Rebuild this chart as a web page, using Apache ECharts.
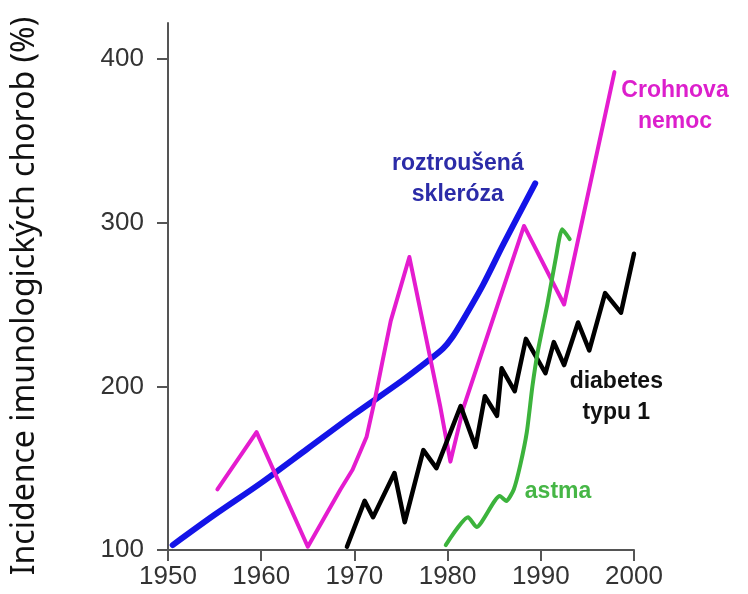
<!DOCTYPE html>
<html><head><meta charset="utf-8">
<script src="https://cdn.jsdelivr.net/npm/echarts@6/dist/echarts.min.js"></script>
<style>html,body{margin:0;padding:0;background:#fff}#c{width:748px;height:594px}</style>
</head><body><div id="c"></div>
<script>
// ---- data ----
const xTicks = [1950, 1960, 1970, 1980, 1990, 2000];
const yTicks = [100, 200, 300, 400];

const msYears  = [1950.5, 1955, 1960, 1965, 1970, 1975, 1978, 1979.5, 1980.5, 1981.7, 1983.8, 1986, 1989.4];
const msValues = [103, 121.5, 141, 162, 183, 203, 216, 223, 230, 241, 262, 287, 324];

const crohnYears  = [1955.3, 1959.5, 1965, 1967, 1968.5, 1969.8, 1971.3, 1972.2, 1973.0, 1973.9, 1975.9, 1979.2, 1980.3, 1981.7, 1988.2, 1992.5, 1997.9];
const crohnValues = [137, 172, 102, 122, 137, 149, 169, 192, 215, 240, 279, 188, 154, 187, 298, 250, 392];

const diabYears  = [1969.2, 1971.1, 1972.0, 1974.3, 1975.4, 1977.4, 1978.8, 1981.4, 1983.0, 1984.0, 1985.3, 1985.8, 1987.2, 1988.4, 1990.5, 1991.4, 1992.5, 1994.0, 1995.2, 1996.9, 1998.6, 2000];
const diabValues = [102, 130, 120, 147, 117, 161, 150, 188, 163, 194, 182, 211, 197, 229, 208, 227, 213, 239, 222, 257, 245, 281];

const astmaYears  = [1979.8, 1982.2, 1983.1, 1985.6, 1986.3, 1987.1, 1987.8, 1988.5, 1989.1, 1989.7, 1990.7, 1991.6, 1992.3, 1993.1];
const astmaValues = [103, 120, 114, 133, 130, 137, 152, 172, 200, 222, 250, 278, 296, 290];

const seriesNames = ['roztroušená\nskleróza', 'Crohnova\nnemoc', 'diabetes\ntypu 1', 'astma'];
const yTitle = 'Incidence imunologických chorob (%)';

// label anchors in data coordinates (year, value)
const labelAnchors = [[1981.1, 326.6], [2004.4, 371.2], [1998.1, 193.5], [1991.85, 135.4]];
const lineColors = ['#1414e8', '#e41ccf', '#000000', '#3cb33c'];
const textColors = ['#2b2ba8', '#dc1fcc', '#111111', '#46b646'];
const lineWidths = [6, 4, 4.5, 4];

function pairs(xs, ys) { return xs.map((x, i) => [x, ys[i]]); }

const chart = echarts.init(document.getElementById('c'), null, { renderer: 'canvas' });
const axisColor = '#555';
const labelFont = 'Liberation Sans, Arial, sans-serif';
const option = {
  animation: false,
  backgroundColor: '#fff',
  grid: { left: 168, right: 114, top: 23, bottom: 44, containLabel: false },
  xAxis: {
    type: 'value', min: 1950, max: 2000, interval: 10,
    axisLine: { show: true, lineStyle: { color: axisColor, width: 2 } },
    axisTick: { show: true, length: 11, lineStyle: { color: axisColor, width: 2 } },
    axisLabel: { color: '#333', fontFamily: labelFont, fontSize: 26, margin: 14,
      formatter: v => String(v) },
    splitLine: { show: false }
  },
  yAxis: {
    type: 'value', min: 100, max: 422,
    axisLine: { show: true, lineStyle: { color: axisColor, width: 2 } },
    axisTick: { show: true, length: 11, customValues: yTicks, lineStyle: { color: axisColor, width: 2 } },
    axisLabel: { color: '#333', fontFamily: labelFont, fontSize: 26, margin: 24,
      customValues: yTicks },
    splitLine: { show: false }
  },
  series: [
    { type: 'line', data: pairs(msYears, msValues), smooth: 0.3 },
    { type: 'line', data: pairs(crohnYears, crohnValues), smooth: false },
    { type: 'line', data: pairs(diabYears, diabValues), smooth: false },
    { type: 'line', data: pairs(astmaYears, astmaValues), smooth: 0.2 }
  ].map((s, i) => Object.assign(s, {
    name: seriesNames[i], symbol: 'none', showSymbol: false, clip: false,
    lineStyle: { color: lineColors[i], width: lineWidths[i], cap: 'round', join: 'round' },
    itemStyle: { color: lineColors[i] }
  }))
};
chart.setOption(option);

const graphics = labelAnchors.map((a, i) => {
  const p = chart.convertToPixel({ gridIndex: 0 }, a);
  return {
    type: 'text', x: p[0], y: p[1], silent: true,
    style: { text: seriesNames[i], fill: textColors[i], font: 'bold 23px "Liberation Sans", Arial, sans-serif',
      textAlign: 'center', textVerticalAlign: 'middle', lineHeight: 31 }
  };
});
graphics.push({
  type: 'text', x: 25, y: 296, rotation: Math.PI / 2, silent: true,
  style: { text: yTitle, fill: '#111', font: '32px "Noto Sans", "Open Sans", sans-serif',
    textAlign: 'center', textVerticalAlign: 'middle' }
});
chart.setOption({ graphic: graphics });
</script>
</body></html>
